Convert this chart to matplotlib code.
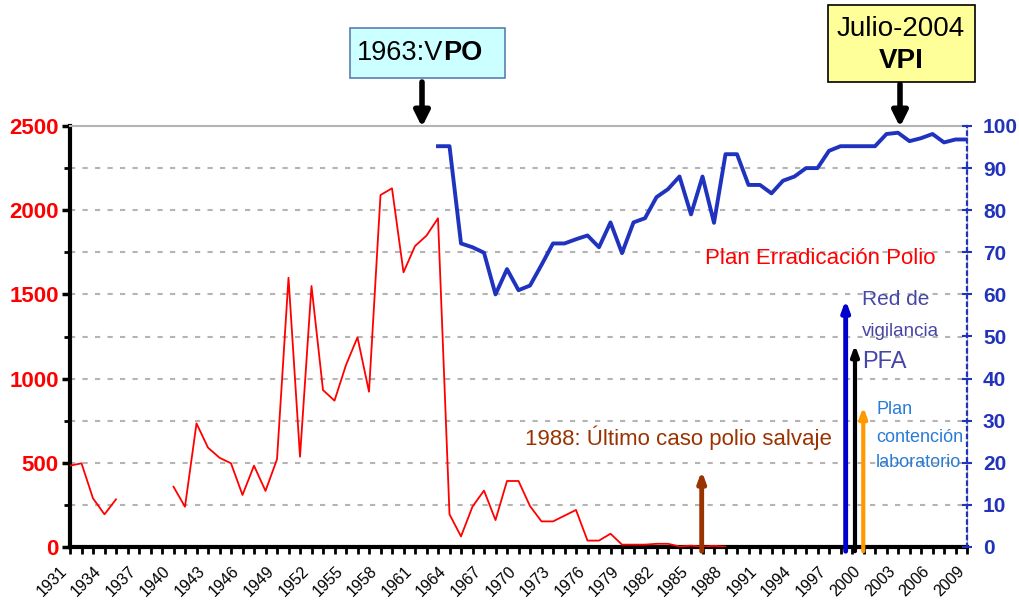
import matplotlib

matplotlib.use("Agg")
import matplotlib.pyplot as plt
import numpy as np
from matplotlib.patches import Rectangle
from matplotlib.transforms import ScaledTranslation

# polio cases per year (left axis), gap 1936-1939
case_years = list(range(1931, 1989))
cases = [483, 497, 289, 194, 283, np.nan, np.nan, np.nan, np.nan, 358,
         239, 734, 590, 530, 497, 309, 483, 333, 521, 1599,
         536, 1550, 932, 869, 1081, 1245, 922, 2090, 2130, 1631,
         1787, 1849, 1952, 194, 63, 240, 335, 160, 392, 392,
         243, 152, 152, 186, 220, 38, 38, 79, 14, 14,
         14, 19, 19, 3, 8, 2, 7, 2]

# vaccination coverage % (right axis)
cov_years = list(range(1963, 2010))
coverage = [95.2, 95.2, 72.1, 71.2, 69.9, 60.0, 66.0, 61.0, 62.1, 67.0,
            72.1, 72.1, 73.1, 74.0, 71.2, 77.1, 69.8, 77.1, 78.1, 83.1,
            85.0, 88.0, 79.0, 88.0, 77.0, 93.3, 93.3, 86.0, 86.0, 84.0,
            87.0, 88.0, 90.0, 90.0, 94.1, 95.2, 95.2, 95.2, 95.2, 98.1,
            98.4, 96.4, 97.1, 98.1, 96.1, 96.8, 96.8]

all_years = list(range(1931, 2010))
left_ticks = [0, 500, 1000, 1500, 2000, 2500]
right_ticks = list(range(0, 101, 10))

W, H = 1019, 601
plt.rcParams["font.family"] = ["Liberation Sans", "DejaVu Sans"]

fig = plt.figure(figsize=(W / 100, H / 100), dpi=100)
ax = fig.add_axes([70 / W, 1 - 547 / H, (967 - 70) / W, (547 - 126) / H])
ax2 = ax.twinx()


def fx(px):
    return px / W


def fy(py):
    return 1 - py / H


# gridlines
for v in range(250, 2500, 250):
    ax.axhline(v, color="#b4b4b4", ls=(0, (2.5, 3.5)), lw=1.5, zorder=0)

ax.plot(case_years, cases, color="#ff0000", lw=1.3, zorder=3)
ax2.plot(cov_years, coverage, color="#1f33bf", lw=2.8, zorder=3)

ax.set_xlim(1931, 2009)
ax.set_ylim(0, 2500)
ax2.set_ylim(0, 100)

ax.set_xticks(all_years)
ax.set_xticklabels([str(y) if (y - 1931) % 3 == 0 else "" for y in all_years],
                   rotation=45, ha="right", va="top", fontsize=11.5)
shift = ScaledTranslation(-6 / 100, 0, fig.dpi_scale_trans)
for lab in ax.get_xticklabels():
    lab.set_transform(lab.get_transform() + shift)
ax.tick_params(axis="x", direction="out", length=5, width=2, color="black", pad=7)

ax.set_yticks(left_ticks)
ax.set_yticks(range(250, 2500, 500), minor=True)
ax.set_yticklabels([str(v) for v in left_ticks], color="#ff0000", fontweight="bold", fontsize=16)
ax.tick_params(axis="y", which="major", direction="out", length=6, width=2.5, pad=2)
ax.tick_params(axis="y", which="minor", direction="out", length=4, width=2)

ax2.set_yticks(right_ticks)
ax2.set_yticklabels([str(v) for v in right_ticks], color="#2233bb", fontweight="bold", fontsize=15)
ax2.tick_params(axis="y", direction="inout", length=7, width=1.5, color="#1f33bf", pad=8)

ax.spines["left"].set_linewidth(3)
ax.spines["bottom"].set_linewidth(3)
ax.spines["top"].set_color("#b4b4b4")
ax.spines["top"].set_linewidth(1.5)
ax.spines["right"].set_color("#b4b4b4")
for s in ("left", "top", "bottom"):
    ax2.spines[s].set_visible(False)
ax2.spines["right"].set_color("#1f33bf")
ax2.spines["right"].set_linestyle((0, (1.5, 2)))
ax2.spines["right"].set_linewidth(1.6)

# vertical milestone arrows (right axis units)
arrows = [(1985.93, 18.1, "#993300", 3.5), (1998.45, 58.7, "#0000cc", 3.5),
          (1999.26, 48.0, "black", 3), (1999.98, 33.3, "#ff9900", 3)]
for x, top, col, lw in arrows:
    ax2.annotate("", xy=(x, top), xytext=(x, -1), zorder=5,
                 arrowprops=dict(arrowstyle="-|>,head_length=0.6,head_width=0.22",
                                 color=col, lw=lw, shrinkA=0, shrinkB=0))

ax.text(1986.2, 1716, "Plan Erradicación Polio", color="#ff0000", fontsize=16,
        ha="left", va="center")
ax.text(1970.6, 647, "1988: Último caso polio salvaje", color="#993300", fontsize=16,
        ha="left", va="center")
ax.text(1999.9, 1467, "Red de", color="#4646a6", fontsize=15, ha="left", va="center")
ax.text(1999.9, 1277, "vigilancia", color="#4646a6", fontsize=13.5, ha="left", va="center")
ax.text(1999.9, 1099, "PFA", color="#4646a6", fontsize=17, ha="left", va="center")
ax.text(2001.1, 814, "Plan", color="#2a7bd6", fontsize=13, ha="left", va="center")
ax.text(2001.1, 653, "contención", color="#2a7bd6", fontsize=13, ha="left", va="center")
ax.text(2001.1, 499, "laboratorio", color="#2a7bd6", fontsize=13, ha="left", va="center")

# boxes above the plot
fig.add_artist(Rectangle((fx(350), fy(78)), fx(155), 50 / H, transform=fig.transFigure,
                         facecolor="#ccffff", edgecolor="#5a7fb0", lw=1.2))
fig.text(fx(443), fy(53), "1963:V", fontsize=19.5, ha="right", va="center")
fig.text(fx(443), fy(53), "PO", fontsize=19.5, fontweight="bold", ha="left", va="center")

fig.add_artist(Rectangle((fx(828), fy(82)), fx(147), 77 / H, transform=fig.transFigure,
                         facecolor="#ffff99", edgecolor="black", lw=1.2))
fig.text(fx(901), fy(29), "Julio-2004", fontsize=20, ha="center", va="center")
fig.text(fx(901), fy(61), "VPI", fontsize=20, fontweight="bold", ha="center", va="center")

for px, py0 in ((422, 82), (900, 84)):
    ax.annotate("", xy=(fx(px), fy(127)), xytext=(fx(px), fy(py0)),
                xycoords="figure fraction", textcoords="figure fraction",
                arrowprops=dict(arrowstyle="-|>,head_length=0.9,head_width=0.45",
                                color="black", lw=4, shrinkA=0, shrinkB=0),
                annotation_clip=False)

fig.savefig("out.png", dpi=100)
